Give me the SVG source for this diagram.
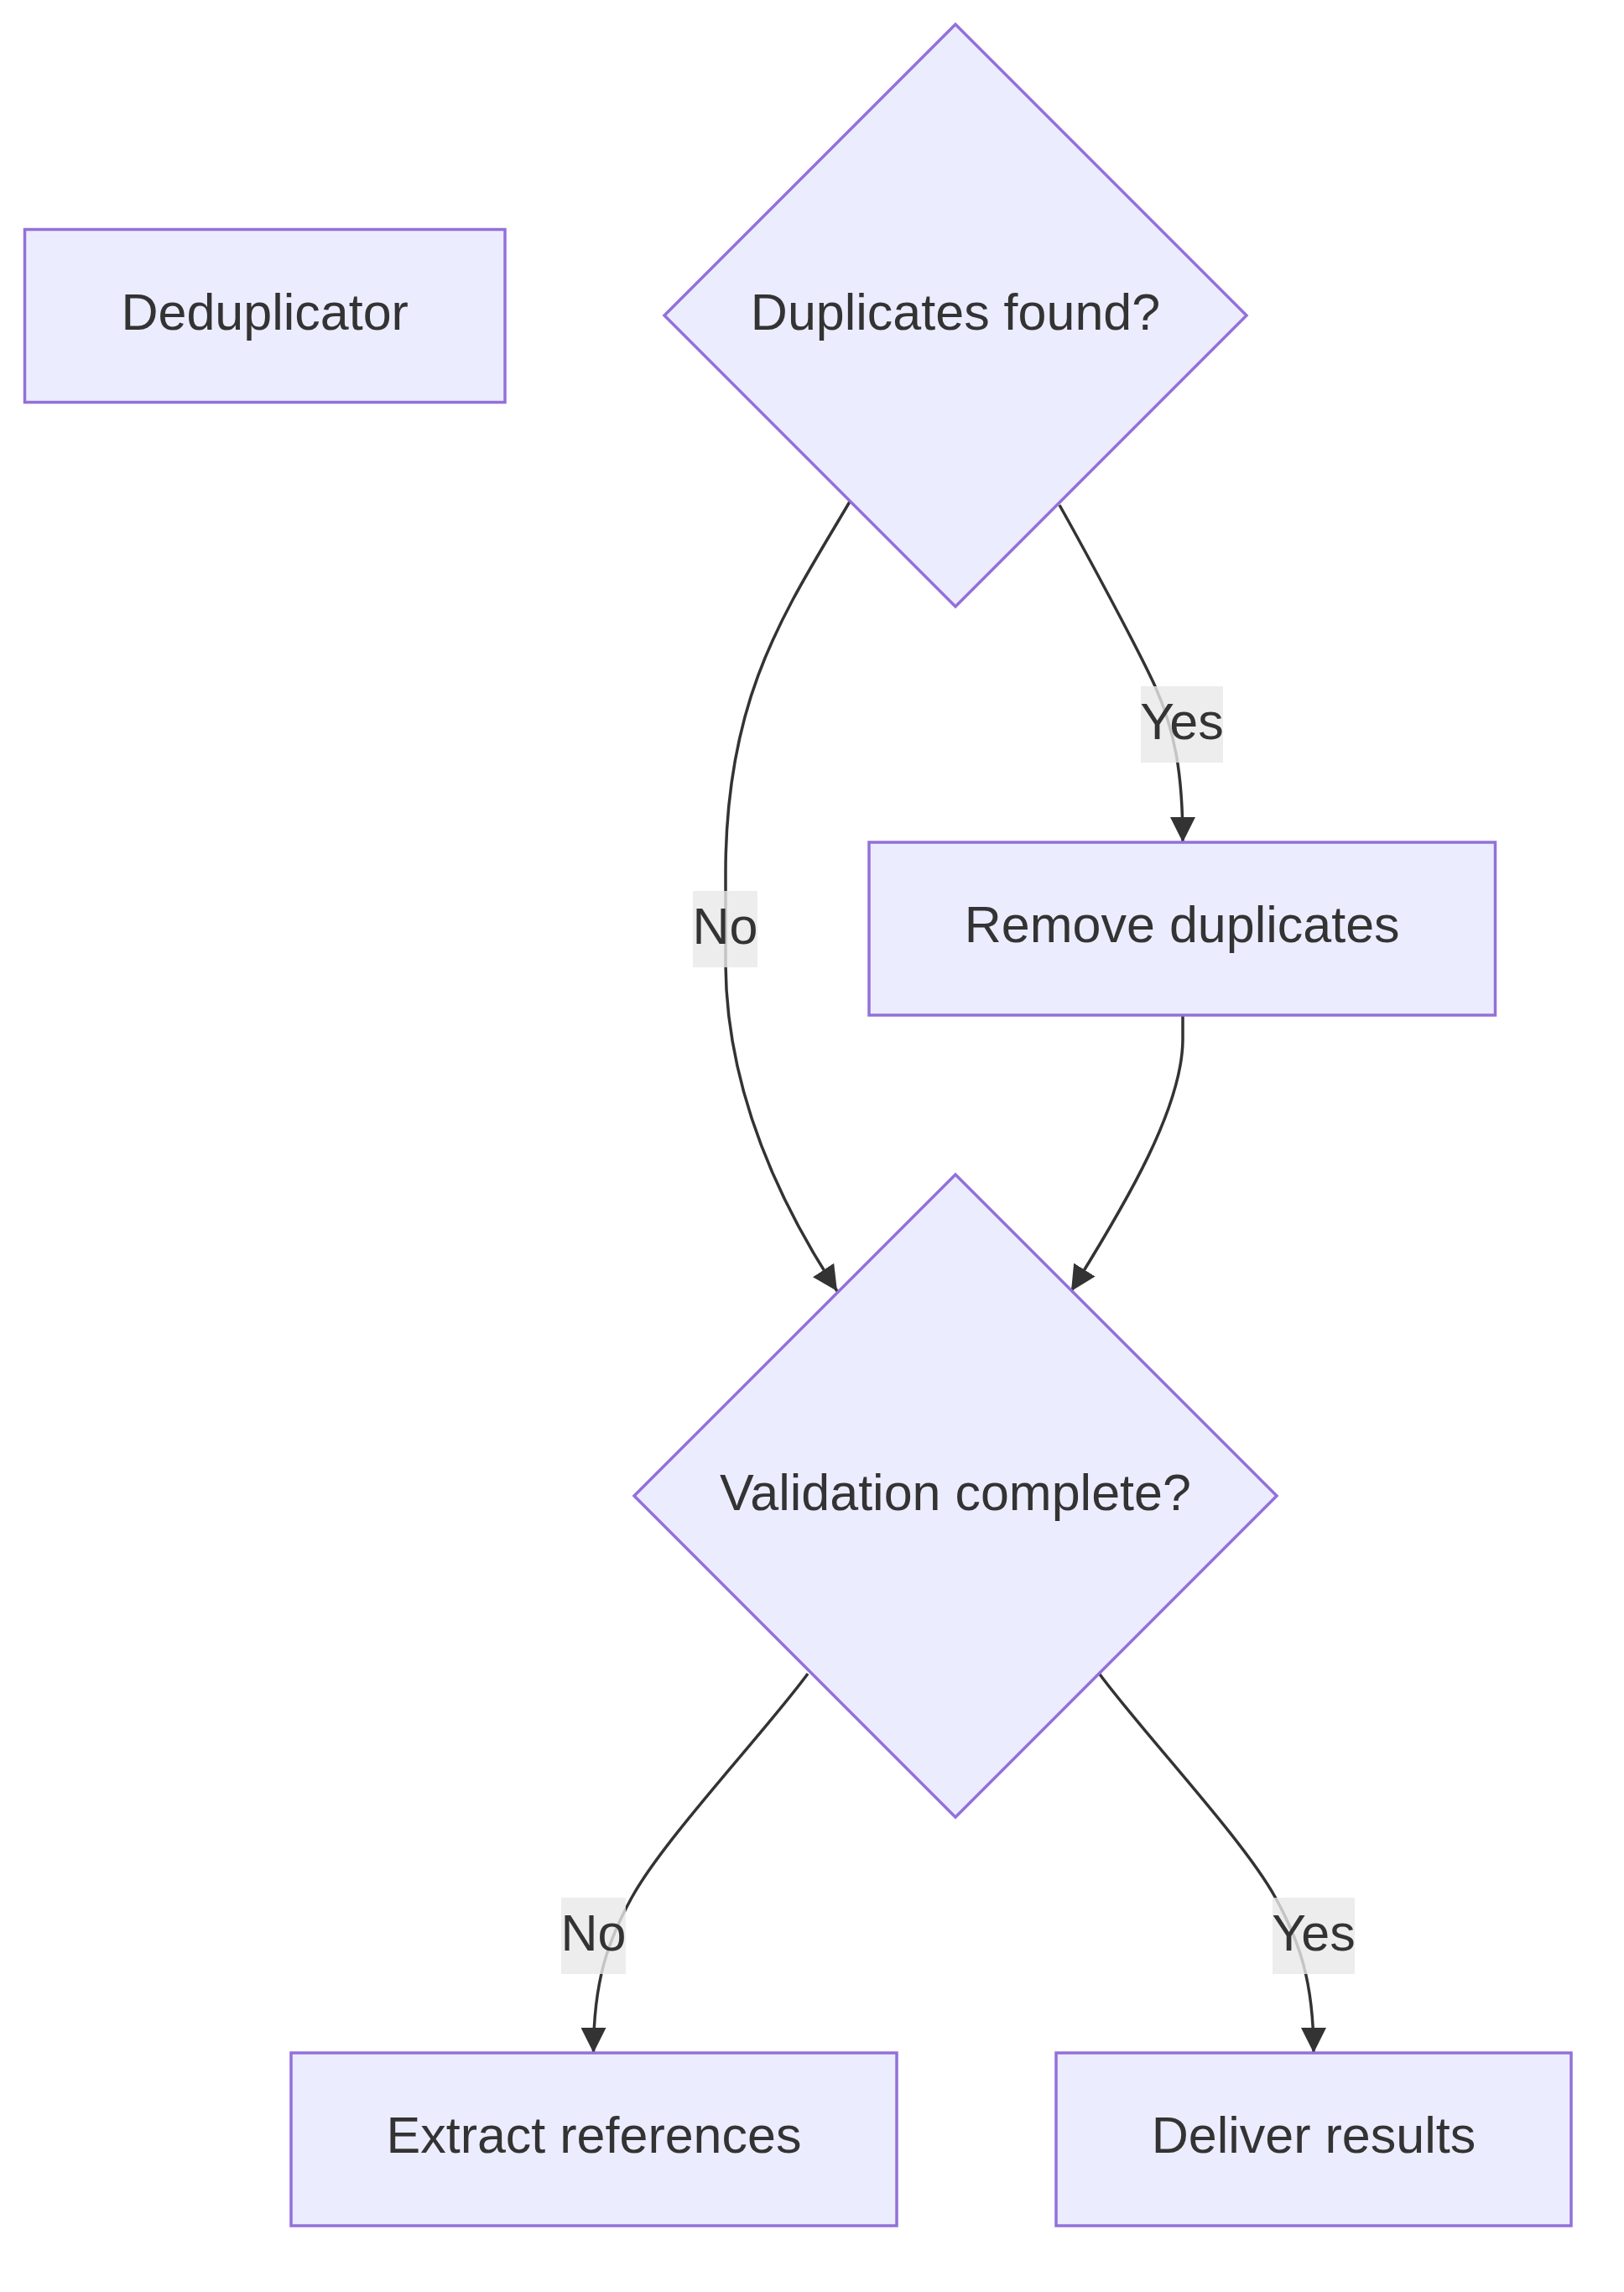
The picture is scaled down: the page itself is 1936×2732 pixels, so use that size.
<svg xmlns="http://www.w3.org/2000/svg" width="1936" height="2732" viewBox="0 0 1936 2732">
<style>
.node rect, .node polygon { fill: #ECECFF; stroke: #9370DB; stroke-width: 3.5; }
.node text, .label text { font-family: "Liberation Sans", Arial, sans-serif; font-size: 61px; fill: #333333; text-anchor: middle; }
.edge { fill: none; stroke: #333333; stroke-width: 3.5; marker-end: url(#arrow); }
.label rect { fill: rgba(232,232,232,0.8); }
</style>
<defs>
<marker id="arrow" viewBox="0 0 10 10" refX="10" refY="5" markerUnits="userSpaceOnUse" markerWidth="30" markerHeight="30" orient="auto">
<path d="M0,0 L10,5 L0,10 z" fill="#333333"/>
</marker>
</defs>
<rect width="1936" height="2732" fill="#ffffff"/>
<g id="connectors">
<path class="edge" d="M1013,598 C935,730 865,830 865,1040 L865,1150 C866,1290 920,1420 998,1539"/>
<path class="edge" d="M1263,602 C1290,650 1355,770 1377,818 C1400,870 1410,920 1410,1004"/>
<path class="edge" d="M1410,1210 L1410,1240 C1409,1320 1345,1430 1277,1539"/>
<path class="edge" d="M963,1995 C911.5,2065 791.5,2192 753,2262 C725.5,2312 707.5,2360 707.5,2447"/>
<path class="edge" d="M1310.5,1995 C1362,2065 1482,2192 1520.5,2262 C1548,2312 1566,2360 1566,2447"/>
</g>
<g id="edge-labels">
<g class="label" id="label-yes-1"><rect x="1360" y="818" width="98" height="91"/><text x="1409" y="881">Yes</text></g>
<g class="label" id="label-no-1"><rect x="826" y="1062" width="77" height="91"/><text x="864.5" y="1125">No</text></g>
<g class="label" id="label-no-2"><rect x="669" y="2262" width="77" height="91"/><text x="707.5" y="2325">No</text></g>
<g class="label" id="label-yes-2"><rect x="1517" y="2262" width="98" height="91"/><text x="1566" y="2325">Yes</text></g>
</g>
<g class="node" id="deduplicator"><rect x="29.5" y="273.5" width="572.5" height="206"/><text x="315.7" y="393">Deduplicator</text></g>
<g class="node" id="duplicates-found"><polygon points="1139,29 1486,376 1139,723 792,376"/><text x="1139" y="393">Duplicates found?</text></g>
<g class="node" id="remove-duplicates"><rect x="1036" y="1004" width="746.5" height="206"/><text x="1409.2" y="1123">Remove duplicates</text></g>
<g class="node" id="validation-complete"><polygon points="1139,1400 1522,1783 1139,2166 756,1783"/><text x="1139" y="1800">Validation complete?</text></g>
<g class="node" id="extract-references"><rect x="347" y="2447" width="722" height="206"/><text x="708" y="2566">Extract references</text></g>
<g class="node" id="deliver-results"><rect x="1259" y="2447" width="614" height="206"/><text x="1566" y="2566">Deliver results</text></g>
</svg>
